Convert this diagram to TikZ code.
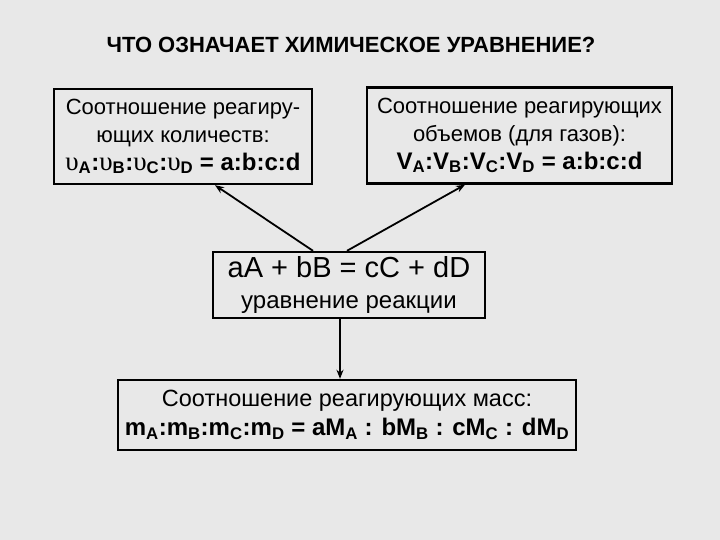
\documentclass[tikz,border=0pt]{standalone}
\usepackage{fontspec}
\setmainfont{Liberation Sans}
\newfontfamily\greekfont{Liberation Serif}
\usetikzlibrary{arrows.meta}

\definecolor{paper}{RGB}{232,232,232}
\newcommand\sub[1]{\textsubscript{#1}}
\newcommand\nuq{{\greekfont\mdseries\fontsize{27}{28}\selectfont υ}}
\newcommand\formula{\fontsize{24}{28}\selectfont\bfseries}

\begin{document}
\begin{tikzpicture}[x=1pt,y=-1pt,
  every node/.style={font=\fontsize{22}{28}\selectfont},
  frame/.style={draw=black,line width=2.4pt,align=center,inner sep=0pt},
  link/.style={black,line width=1.8pt,-{Stealth[length=9pt,width=7pt]}}]
  % page background (720 x 540)
  \fill[paper] (0,0) rectangle (720,540);
  \useasboundingbox (0,0) rectangle (720,540);

  \node[font=\fontsize{22}{24}\selectfont\bfseries] (title) at (351,45)
    {ЧТО ОЗНАЧАЕТ ХИМИЧЕСКОЕ УРАВНЕНИЕ?};

  % the three consequences and the equation itself
  \node[frame,minimum width=258,minimum height=95] (amount) at (183,136.5)
    {Соотношение реагиру-\\ющих количеств:\\
     {\formula\nuq\sub{A}:\nuq\sub{B}:\nuq\sub{C}:\nuq\sub{D} = a:b:c:d}};
  \node[frame,minimum width=305,minimum height=96] (volume) at (519.5,135.5)
    {Соотношение реагирующих\\объемов (для газов):\\
     {\formula V\sub{A}:V\sub{B}:V\sub{C}:V\sub{D} = a:b:c:d}};
  \node[frame,minimum width=272,minimum height=66,
    font=\fontsize{24}{31}\selectfont] (eqn) at (349,285)
    {{\fontsize{29}{31}\selectfont aA + bB = cC + dD}\\уравнение реакции};
  \node[frame,minimum width=458,minimum height=70,
    font=\fontsize{23.5}{29}\selectfont] (mass) at (347,415)
    {Соотношение реагирующих масс:\\
     {\formula m\sub{A}:m\sub{B}:m\sub{C}:m\sub{D} = aM\sub{A} : bM\sub{B} : cM\sub{C} : dM\sub{D}}};

  \draw[link] ([xshift=-36pt]eqn.north) -- ([xshift=32pt]amount.south);
  \draw[link] ([xshift=-2pt]eqn.north) -- ([xshift=-54.5pt]volume.south);
  \draw[link] ([xshift=-9pt]eqn.south) -- ([xshift=-7pt]mass.north);
\end{tikzpicture}
\end{document}
